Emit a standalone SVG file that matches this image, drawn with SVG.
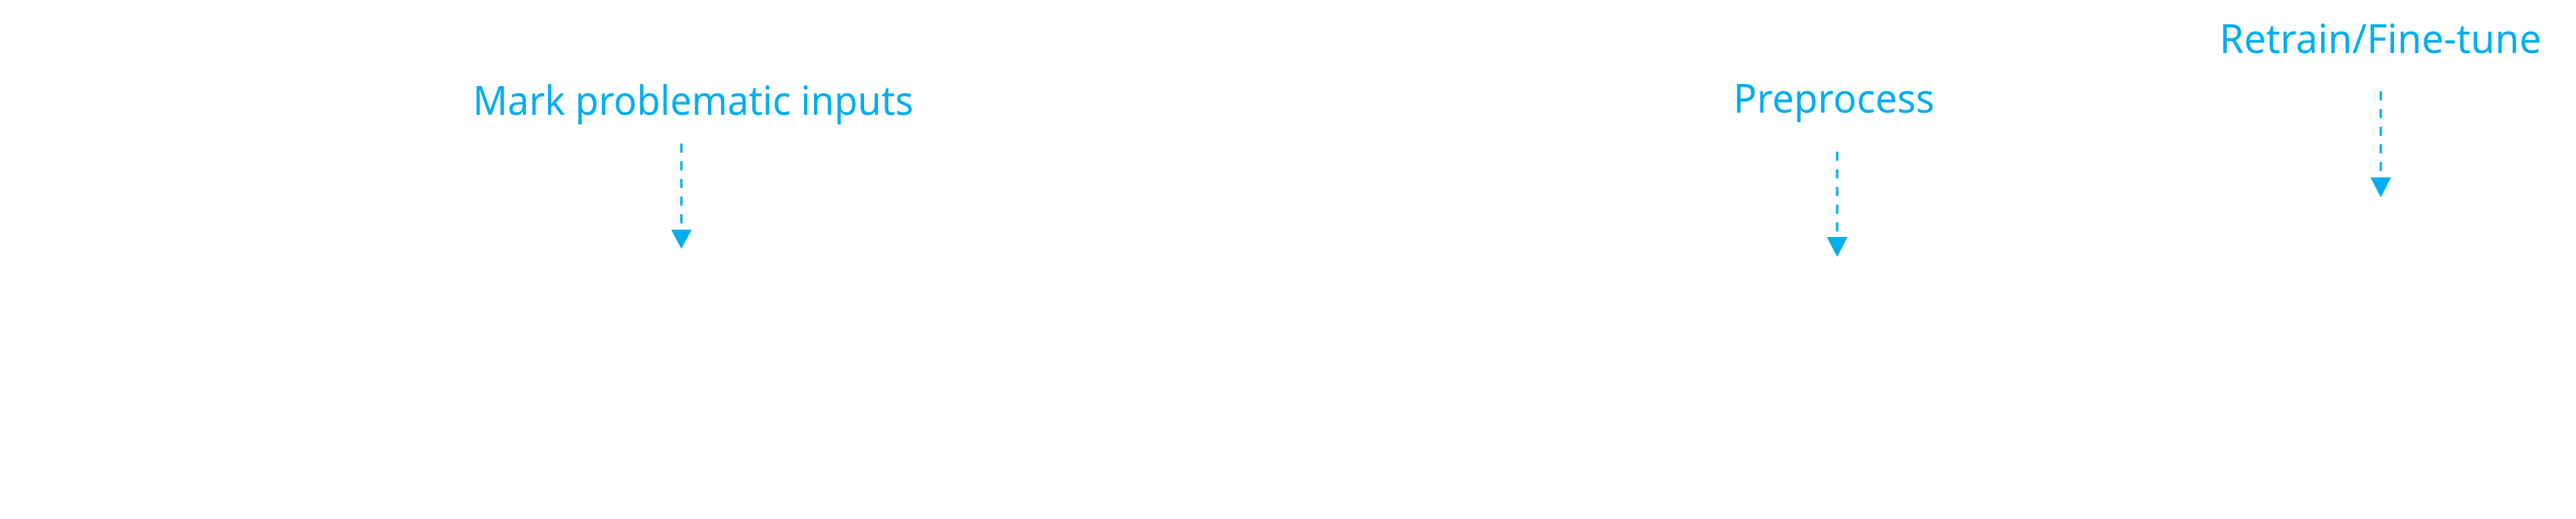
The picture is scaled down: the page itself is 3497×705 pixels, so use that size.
<svg xmlns="http://www.w3.org/2000/svg" width="3497" height="705" viewBox="0 0 3497 705">
<style>
.lbl{font-family:"Noto Sans","Liberation Sans",sans-serif;font-size:55px;fill:#00AEEF}
.dash{stroke:#00AEEF;stroke-width:3.2;stroke-dasharray:12.5 11.5;fill:none}
.head{fill:#00AEEF}
</style>
<rect width="3497" height="705" fill="#ffffff"/>
<g id="label-mark">
<text class="lbl" x="642" y="156" textLength="598" lengthAdjust="spacingAndGlyphs">Mark problematic inputs</text>
</g>
<g id="label-preprocess">
<text class="lbl" x="2353" y="153" textLength="273" lengthAdjust="spacingAndGlyphs">Preprocess</text>
</g>
<g id="label-retrain">
<text class="lbl" x="3013" y="72" textLength="437" lengthAdjust="spacingAndGlyphs">Retrain/Fine-tune</text>
</g>
<g id="connectors">
<line class="dash" x1="925" y1="195" x2="925" y2="304"/>
<polygon class="head" points="911,312 939,312 925,338"/>
<line class="dash" x1="2494" y1="206" x2="2494" y2="315"/>
<polygon class="head" points="2480,322 2508,322 2494,349"/>
<line class="dash" x1="3232" y1="124" x2="3232" y2="233"/>
<polygon class="head" points="3218,241 3246,241 3232,268"/>
</g>
</svg>
